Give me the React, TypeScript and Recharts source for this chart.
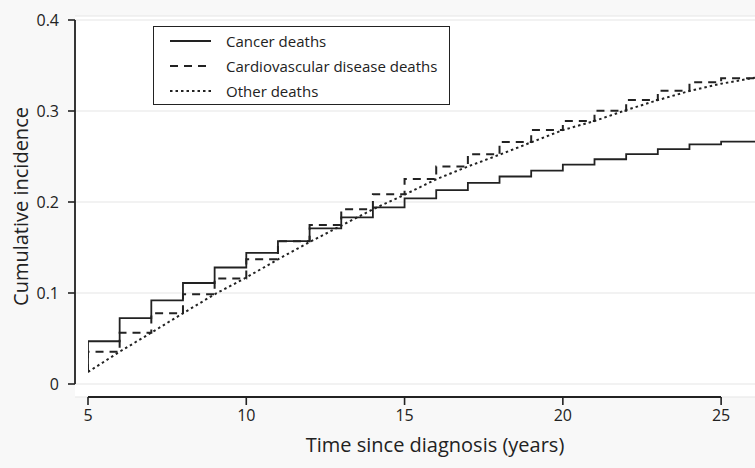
import React from 'react'
import { LineChart, Line, XAxis, YAxis, CartesianGrid, Legend } from 'recharts'

// years since diagnosis; first row is the common starting point drawn at t = 5
const timeYears = [5, 5, 6, 7, 8, 9, 10, 11, 12, 13, 14, 15, 16, 17, 18, 19, 20, 21, 22, 23, 24, 25, 26.07]
const cancerDeaths = [0.013, 0.047, 0.0725, 0.092, 0.111, 0.128, 0.144, 0.157, 0.171, 0.183, 0.194, 0.204, 0.213, 0.221, 0.228, 0.2344, 0.241, 0.247, 0.2527, 0.258, 0.2634, 0.2663, 0.2663]
const cardioDeaths = [0.013, 0.0355, 0.0564, 0.0777, 0.0986, 0.116, 0.137, 0.157, 0.1747, 0.192, 0.2084, 0.2253, 0.2389, 0.2524, 0.266, 0.279, 0.289, 0.3004, 0.312, 0.3223, 0.3315, 0.336, 0.336]
const otherDeaths = [0.0132, 0.0132, 0.0355, 0.0564, 0.0777, 0.0986, 0.117, 0.137, 0.156, 0.174, 0.192, 0.208, 0.225, 0.239, 0.252, 0.2656, 0.279, 0.289, 0.301, 0.312, 0.322, 0.33, 0.3366]

const xTicks = [5, 10, 15, 20, 25]
const yTicks = [0, 0.1, 0.2, 0.3, 0.4]

const seriesNames = ['Cancer deaths', 'Cardiovascular disease deaths', 'Other deaths']

const INK = '#222'
const DASHES = ['', '8 6', '2.5 3']

const data = timeYears.map((t, i) => ({
  t,
  cancer: cancerDeaths[i],
  cardio: cardioDeaths[i],
  other: otherDeaths[i],
}))

function LegendBox() {
  return (
    <div style={{ border: `1.5px solid ${INK}`, background: '#fff', padding: '1px 12px 1px 16px' }}>
      {seriesNames.map((name, i) => (
        <div key={name} style={{ display: 'flex', alignItems: 'center', height: 25 }}>
          <svg width={41} height={4} style={{ display: 'block' }}>
            <line x1={0} y1={2} x2={41} y2={2} stroke={INK} strokeWidth={2} strokeDasharray={DASHES[i] || undefined} />
          </svg>
          <span style={{ marginLeft: 15, fontSize: 15, color: INK, whiteSpace: 'nowrap' }}>{name}</span>
        </div>
      ))}
    </div>
  )
}

export default function App() {
  const tickStyle = { fill: INK, fontSize: 16 }
  return (
    <div style={{ position: 'absolute', left: 0, top: 0, width: 755, height: 468, background: '#f8f8f8', fontFamily: '"Open Sans", sans-serif' }}>
      <LineChart width={755} height={468} data={data} margin={{ top: 16, right: 0, bottom: 0, left: 0 }}>
        <CartesianGrid vertical={false} fill="#fff" stroke="#e6e6e6" strokeWidth={1.2} />
        <XAxis
          dataKey="t"
          type="number"
          domain={[5, 26.07]}
          allowDataOverflow
          ticks={xTicks}
          padding={{ left: 13, right: 0 }}
          height={71}
          tickSize={8}
          tickMargin={5}
          axisLine={{ stroke: INK, strokeWidth: 1.8, strokeDasharray: '0 13 633 1000' }}
          tickLine={{ stroke: INK, strokeWidth: 1.6 }}
          tick={tickStyle}
          label={{ value: 'Time since diagnosis (years)', position: 'insideBottom', offset: 16, dx: 20, fill: INK, fontSize: 20 }}
        />
        <YAxis
          type="number"
          domain={[0, 0.4]}
          ticks={yTicks}
          width={75}
          padding={{ top: 4, bottom: 13 }}
          tickSize={7}
          tickMargin={9}
          tickFormatter={(v: number) => (v === 0 ? '0' : v.toFixed(1))}
          axisLine={{ stroke: INK, strokeWidth: 1.8, strokeDasharray: '0 4 364 1000' }}
          tickLine={{ stroke: INK, strokeWidth: 1.6 }}
          tick={tickStyle}
          label={{ value: 'Cumulative incidence', angle: -90, position: 'insideLeft', offset: 21, fill: INK, fontSize: 20, style: { textAnchor: 'middle' } }}
        />
        <Legend
          layout="vertical"
          verticalAlign="middle"
          align="center"
          content={<LegendBox />}
          wrapperStyle={{ left: 153, top: 26, width: 'auto' }}
        />
        <Line dataKey="cancer" type="stepAfter" stroke={INK} strokeWidth={1.8} dot={false} isAnimationActive={false} />
        <Line dataKey="cardio" type="stepAfter" stroke={INK} strokeWidth={2} strokeDasharray={DASHES[1]} dot={false} isAnimationActive={false} />
        <Line dataKey="other" type="linear" stroke={INK} strokeWidth={2} strokeDasharray={DASHES[2]} dot={false} isAnimationActive={false} />
      </LineChart>
    </div>
  )
}
